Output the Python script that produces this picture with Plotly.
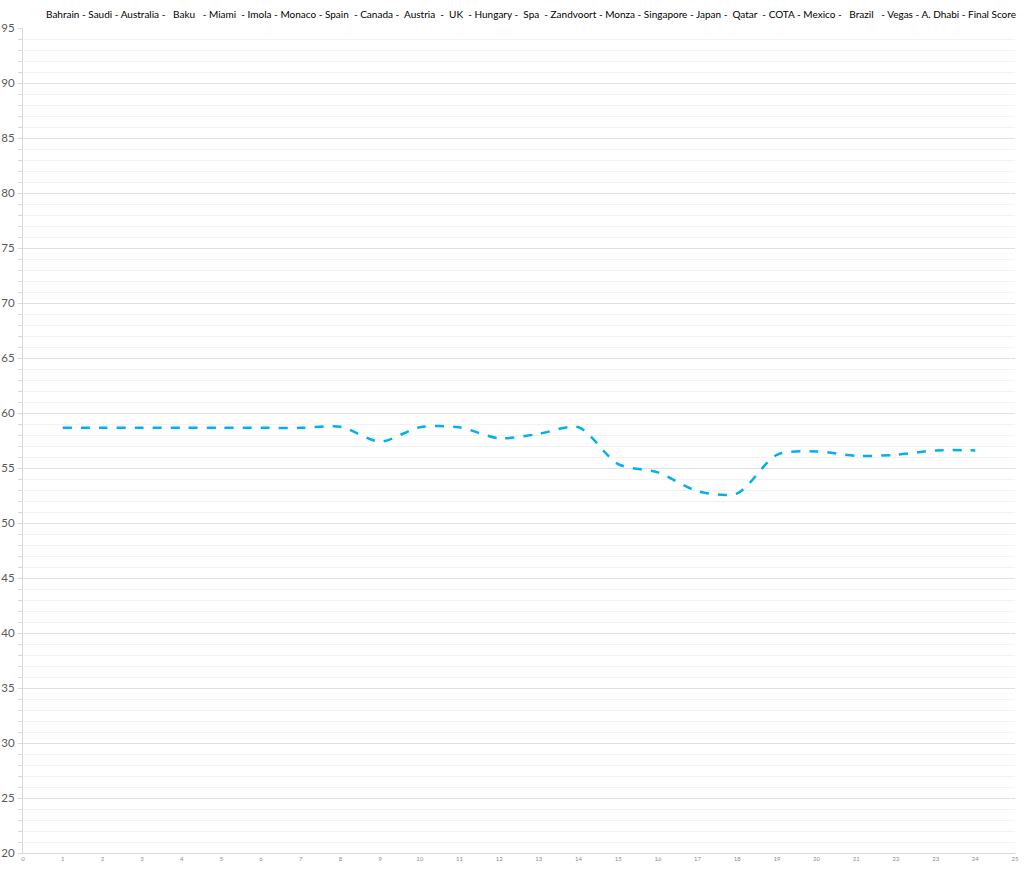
import plotly.graph_objects as go

races = list(range(1, 25))
scores = [58.65, 58.65, 58.65, 58.65, 58.65, 58.65, 58.65, 58.75, 57.4, 58.7,
          58.7, 57.7, 58.1, 58.7, 55.35, 54.6, 52.9, 52.7, 56.2, 56.5,
          56.1, 56.2, 56.6, 56.6]
title_parts = ["Bahrain", "Saudi", "Australia", "\u00a0\u00a0Baku\u00a0\u00a0", "Miami\u00a0", "Imola",
               "Monaco", "Spain\u00a0", "Canada", "\u00a0Austria\u00a0", "\u00a0UK\u00a0", "Hungary",
               "\u00a0Spa\u00a0", "Zandvoort", "Monza", "Singapore", "Japan", "\u00a0Qatar\u00a0",
               "COTA", "Mexico", "\u00a0\u00a0Brazil\u00a0\u00a0", "Vegas", "A. Dhabi", "Final Score"]
title_text = " - ".join(title_parts)

fig = go.Figure()
fig.add_trace(go.Scatter(
    x=races, y=scores, mode="lines",
    line=dict(color="#00b0f0", width=2.5, dash="dash", shape="spline", smoothing=0.8),
    showlegend=False, hoverinfo="x+y"))

fig.update_layout(
    width=1024, height=889,
    margin=dict(l=23, r=9, t=28, b=36),
    paper_bgcolor="white", plot_bgcolor="white",
    font=dict(family="Lato, Open Sans, sans-serif", color="#595959"),
    annotations=[dict(text=title_text, xref="paper", yref="paper", x=0.512, y=1,
                      yshift=14, yanchor="middle", xanchor="center", showarrow=False,
                      font=dict(size=10, color="#000000", family="Lato, sans-serif"))],
    xaxis=dict(range=[0, 25], dtick=1, tick0=0, showgrid=False, zeroline=False,
               showline=True, linecolor="#d9d9d9", linewidth=1, automargin=False,
               ticks="", tickfont=dict(size=6, color="#8c8c8c")),
    yaxis=dict(range=[20, 95], dtick=5, tick0=20, showgrid=True, gridcolor="#e0e0e0",
               gridwidth=1, zeroline=False, showline=True, linecolor="#d9d9d9",
               automargin=False, ticklabelstandoff=1,
               ticks="outside", ticklen=4, tickcolor="#d9d9d9",
               tickfont=dict(size=11.5, color="#595959"),
               minor=dict(dtick=1, showgrid=True, gridcolor="#f2f2f2", gridwidth=1,
                          ticks="outside", ticklen=4, tickcolor="#d9d9d9")),
)

fig.write_html("out.html", config={"displayModeBar": False},
               post_script="document.body.style.margin='0';document.body.style.padding='0';")
